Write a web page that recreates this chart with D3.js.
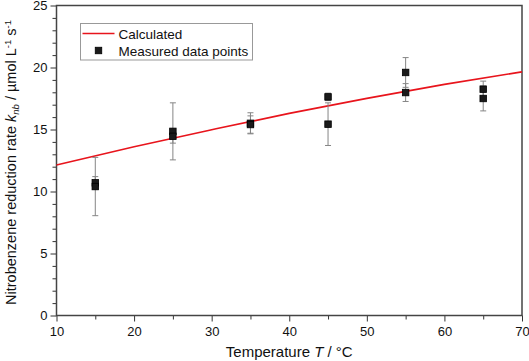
<!DOCTYPE html>
<html>
<head>
<meta charset="utf-8">
<script src="https://cdn.jsdelivr.net/npm/d3@7"></script>
<style>
  body { margin: 0; background: #fff; }
  text { font-family: Arial, "Liberation Sans", sans-serif; fill: #111; }
</style>
</head>
<body>
<div id="chart"></div>
<script>
// data
var calcT = [10, 20, 30, 40, 50, 60, 70];
var calcK = [12.13, 13.61, 14.98, 16.3, 17.51, 18.64, 19.65];

var measT   = [15, 15, 25, 25, 35, 35, 45, 45, 55, 55, 65, 65];
var measK   = [10.7, 10.4, 14.85, 14.45, 15.5, 15.4, 17.63, 15.43, 19.6, 17.98, 18.25, 17.5];
var measErr = [0.5, 2.35, 2.3, 0.55, 0.85, 0.7, 0.3, 1.72, 1.2, 0.72, 0.65, 1.0];

var xTicks = [10, 20, 30, 40, 50, 60, 70];
var yTicks = [0, 5, 10, 15, 20, 25];

var width = 529, height = 361;
var margin = { top: 5.5, right: 7, bottom: 45.5, left: 56.5 };
var innerWidth = width - margin.left - margin.right;
var innerHeight = height - margin.top - margin.bottom;

var svg = d3.select("#chart").append("svg")
  .attr("width", width)
  .attr("height", height);

var g = svg.append("g")
  .attr("transform", "translate(" + margin.left + "," + margin.top + ")");

var x = d3.scaleLinear().domain([10, 70]).range([0, innerWidth]);
var y = d3.scaleLinear().domain([0, 25]).range([innerHeight, 0]);

// minor ticks
g.append("g")
  .attr("transform", "translate(0," + innerHeight + ")")
  .call(d3.axisBottom(x).tickValues(d3.range(15, 70, 10)).tickSize(4).tickFormat(""))
  .call(a => a.select(".domain").remove())
  .selectAll("line").attr("stroke", "#333");

g.append("g")
  .call(d3.axisLeft(y).tickValues(d3.range(0, 26, 1).filter(v => v % 5 !== 0)).tickSize(4).tickFormat(""))
  .call(a => a.select(".domain").remove())
  .selectAll("line").attr("stroke", "#333");

// major ticks + labels
var xAxis = g.append("g")
  .attr("transform", "translate(0," + innerHeight + ")")
  .call(d3.axisBottom(x).tickValues(xTicks).tickSize(6).tickPadding(5))
  .call(a => a.select(".domain").remove());
xAxis.attr("font-size", 13).attr("font-family", null);
xAxis.selectAll("line").attr("stroke", "#333");
xAxis.selectAll("text").attr("fill", "#111");

var yAxis = g.append("g")
  .call(d3.axisLeft(y).tickValues(yTicks).tickSize(6).tickPadding(3))
  .call(a => a.select(".domain").remove());
yAxis.attr("font-size", 13).attr("font-family", null);
yAxis.selectAll("line").attr("stroke", "#333");
yAxis.selectAll("text").attr("fill", "#111");

// frame
g.append("rect")
  .attr("x", 0).attr("y", 0)
  .attr("width", innerWidth).attr("height", innerHeight)
  .attr("fill", "none")
  .attr("stroke", "#444")
  .attr("stroke-width", 1.5);

// calculated line
var line = d3.line()
  .x((d, i) => x(calcT[i]))
  .y(d => y(d))
  .curve(d3.curveMonotoneX);

g.append("path")
  .datum(calcK)
  .attr("d", line)
  .attr("fill", "none")
  .attr("stroke", "#e8141c")
  .attr("stroke-width", 1.6);

// error bars
var errs = g.append("g").selectAll("g")
  .data(measK)
  .enter()
  .append("g")
  .attr("stroke", "#858585")
  .attr("stroke-width", 1);

errs.append("line")
  .attr("x1", (d, i) => x(measT[i])).attr("x2", (d, i) => x(measT[i]))
  .attr("y1", (d, i) => y(d - measErr[i])).attr("y2", (d, i) => y(d + measErr[i]));
errs.append("line")
  .attr("x1", (d, i) => x(measT[i]) - 3).attr("x2", (d, i) => x(measT[i]) + 3)
  .attr("y1", (d, i) => y(d + measErr[i])).attr("y2", (d, i) => y(d + measErr[i]));
errs.append("line")
  .attr("x1", (d, i) => x(measT[i]) - 3).attr("x2", (d, i) => x(measT[i]) + 3)
  .attr("y1", (d, i) => y(d - measErr[i])).attr("y2", (d, i) => y(d - measErr[i]));

// measured points
var sz = 6.5;
g.append("g").selectAll("rect")
  .data(measK)
  .enter()
  .append("rect")
  .attr("x", (d, i) => x(measT[i]) - sz / 2)
  .attr("y", d => y(d) - sz / 2)
  .attr("width", sz).attr("height", sz)
  .attr("fill", "#1a1a1a")
  .attr("stroke", "#000")
  .attr("stroke-width", 0.8);

// legend
var leg = svg.append("g").attr("transform", "translate(80.5,23.5)");
leg.append("rect")
  .attr("width", 172).attr("height", 36.5)
  .attr("fill", "#fff")
  .attr("stroke", "#999")
  .attr("stroke-width", 1);
leg.append("line")
  .attr("x1", 2).attr("x2", 34).attr("y1", 10).attr("y2", 10)
  .attr("stroke", "#e8141c").attr("stroke-width", 1.6);
leg.append("text").attr("x", 38).attr("y", 15).attr("font-size", 13.5).text("Calculated");
leg.append("rect")
  .attr("x", 18 - 3.25).attr("y", 27 - 3.25).attr("width", sz).attr("height", sz)
  .attr("fill", "#1a1a1a").attr("stroke", "#000").attr("stroke-width", 0.8);
leg.append("text").attr("x", 38).attr("y", 32).attr("font-size", 13.5).text("Measured data points");

// x axis title
var xt = svg.append("text")
  .attr("x", margin.left + innerWidth / 2)
  .attr("y", 357)
  .attr("text-anchor", "middle")
  .attr("font-size", 15);
xt.append("tspan").text("Temperature  ");
xt.append("tspan").attr("font-style", "italic").text("T");
xt.append("tspan").text(" / °C");

// y axis title
var yt = svg.append("text")
  .attr("transform", "translate(16," + (margin.top + innerHeight / 2 + 2) + ") rotate(-90)")
  .attr("text-anchor", "middle")
  .attr("font-size", 14.5);
yt.append("tspan").text("Nitrobenzene reduction rate  ");
yt.append("tspan").attr("font-style", "italic").text("k");
yt.append("tspan").attr("font-style", "italic").attr("font-size", 9.5).attr("dy", 3).text("nb");
yt.append("tspan").attr("dy", -3).text(" / µmol L");
yt.append("tspan").attr("font-size", 9.5).attr("dy", -5).text("-1");
yt.append("tspan").attr("dy", 5).text(" s");
yt.append("tspan").attr("font-size", 9.5).attr("dy", -5).text("-1");
</script>
</body>
</html>
